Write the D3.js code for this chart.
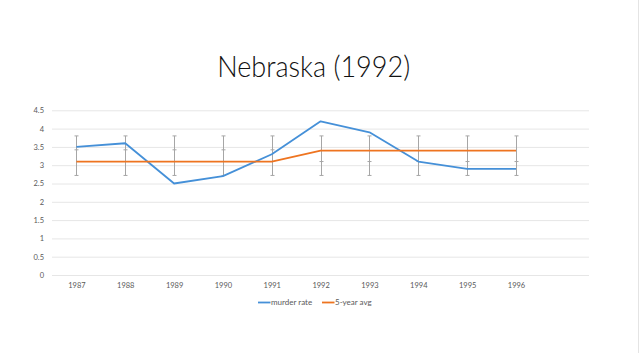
<!DOCTYPE html>
<html>
<head>
<meta charset="utf-8">
<script src="https://cdn.jsdelivr.net/npm/d3@7"></script>
<style>
html,body{margin:0;padding:0;background:#fff;}
svg{display:block;}
</style>
</head>
<body>
<script>
const years = ["1987","1988","1989","1990","1991","1992","1993","1994","1995","1996"];
const murderRate = [3.5, 3.6, 2.5, 2.7, 3.3, 4.2, 3.9, 3.1, 2.9, 2.9];
const fiveYearAvg = [3.1, 3.1, 3.1, 3.1, 3.1, 3.4, 3.4, 3.4, 3.4, 3.4];
const errLow = [2.72, 2.72, 2.72, 2.72, 2.72, 2.72, 2.72, 2.72, 2.72, 2.72];
const errHigh = [3.8, 3.8, 3.8, 3.8, 3.8, 3.8, 3.8, 3.8, 3.8, 3.8];
const errMid = [3.42, 3.42, 3.42, 3.42, 3.42, 3.1, 3.1, 3.1, 3.1, 3.1];
const yTicks = [0, 0.5, 1, 1.5, 2, 2.5, 3, 3.5, 4, 4.5];
const title = "Nebraska (1992)";
const seriesNames = ["murder rate", "5-year avg"];
const colors = ["#4590D8", "#EE7420"];

const W = 640, H = 353;
const svg = d3.select("body").append("svg").attr("width", W).attr("height", H);

const plotLeft = 52, plotRight = 589;
const y = d3.scaleLinear().domain([0, 4.5]).range([275, 110.3]);
const x = d3.scalePoint().domain(years).range([76.4, 516]);

// right border
svg.append("line").attr("x1", 638.5).attr("x2", 638.5).attr("y1", 0).attr("y2", H)
  .attr("stroke", "#e4e4e4").attr("stroke-width", 1);

// title
svg.append("text").attr("x", 313.7).attr("y", 76.7)
  .attr("text-anchor", "middle")
  .attr("font-family", "Lato").attr("font-weight", 300)
  .attr("font-size", 30).attr("fill", "#111")
  .attr("textLength", 193).attr("lengthAdjust", "spacingAndGlyphs")
  .text(title);

// y axis grid + labels
const yAxis = d3.axisLeft(y).tickValues(yTicks).tickSize(-(plotRight - plotLeft)).tickFormat(d3.format("~g"));
const gy = svg.append("g").attr("transform", `translate(${plotLeft},0)`).call(yAxis);
gy.select(".domain").remove();
gy.selectAll(".tick line").attr("stroke", "#e6e6e6").attr("stroke-width", 1);
gy.selectAll(".tick text").attr("x", -8).attr("fill", "#595959")
  .attr("font-family", "Lato").attr("font-size", 7.5);

// x axis labels
const xAxis = d3.axisBottom(x).tickSize(0);
const gx = svg.append("g").attr("transform", `translate(0,275)`).call(xAxis);
gx.select(".domain").remove();
gx.selectAll(".tick text").attr("y", 8).attr("fill", "#595959")
  .attr("font-family", "Lato").attr("font-size", 7.5);

// error bars
const eb = svg.append("g").attr("stroke", "#a6a6a6").attr("stroke-width", 1).attr("fill", "none");
years.forEach((yr, i) => {
  const cx = Math.round(x(yr)) + 0.5;
  eb.append("line").attr("x1", cx).attr("x2", cx).attr("y1", y(errLow[i])).attr("y2", y(errHigh[i]));
  [errLow[i], errMid[i], errHigh[i]].forEach(v => {
    eb.append("line").attr("x1", cx - 2).attr("x2", cx + 2).attr("y1", y(v)).attr("y2", y(v));
  });
});

// lines
const line = d3.line().x((d, i) => x(years[i])).y(d => y(d));
svg.append("path").datum(murderRate).attr("d", line)
  .attr("fill", "none").attr("stroke", colors[0]).attr("stroke-width", 1.8).attr("stroke-linejoin", "round");
svg.append("path").datum(fiveYearAvg).attr("d", line)
  .attr("fill", "none").attr("stroke", colors[1]).attr("stroke-width", 1.8).attr("stroke-linejoin", "round");

// legend
const legendX = [258, 322];
const lg = svg.append("g");
seriesNames.forEach((name, i) => {
  lg.append("line").attr("x1", legendX[i]).attr("x2", legendX[i] + 12.5)
    .attr("y1", 302.5).attr("y2", 302.5).attr("stroke", colors[i]).attr("stroke-width", 1.8);
  lg.append("text").attr("x", legendX[i] + 13).attr("y", 305.2)
    .attr("font-family", "Lato").attr("font-size", 8).attr("fill", "#595959").text(name);
});
</script>
</body>
</html>
